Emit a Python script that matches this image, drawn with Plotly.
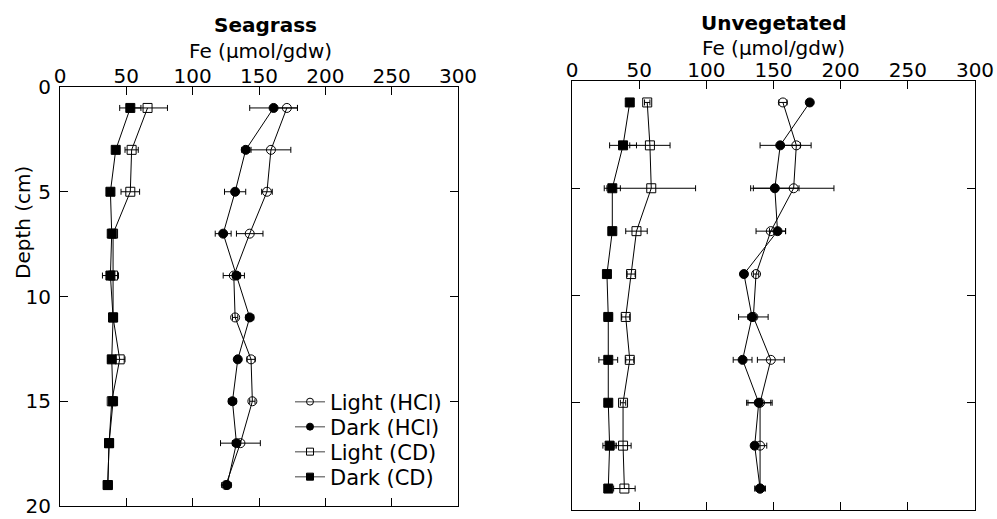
import plotly.graph_objects as go

depth = [1, 3, 5, 7, 9, 11, 13, 15, 17, 19]

# Seagrass panel
sg_light_hcl = [171, 159, 156, 143, 131, 132, 144, 145, 136, 125]
sg_light_hcl_err = [8, 15, 4, 10, 8, 2, 3, 2, 15, 3]
sg_dark_hcl = [161, 140, 132, 123, 133, 143, 134, 130, 133, 126]
sg_dark_hcl_err = [18, 3, 8, 6, 3, 3, 2, 3, 3, 3]
sg_light_cd = [66, 54, 53, 40, 40, 40, 45, 39, 37, 36]
sg_light_cd_err = [15, 5, 7, 2, 4, 2, 4, 2, 2, 3]
sg_dark_cd = [53, 42, 38, 39, 38, 40, 39, 40, 37, 36]
sg_dark_cd_err = [8, 2, 2, 2, 6, 2, 3, 2, 1, 3]

# Unvegetated panel
un_light_hcl = [157, 167, 165, 148, 137, 135, 148, 140, 140, 140]
un_light_hcl_err = [3, 11, 30, 11, 2, 11, 10, 9, 5, 3]
un_dark_hcl = [177, 155, 151, 153, 128, 134, 127, 139, 136, 140]
un_dark_hcl_err = [2, 15, 18, 6, 2, 3, 7, 9, 2, 4]
un_light_cd = [56, 58, 59, 48, 44, 40, 43, 38, 38, 39]
un_light_cd_err = [2, 15, 33, 8, 3, 3, 3, 2, 6, 8]
un_dark_cd = [43, 38, 30, 30, 26, 27, 27, 27, 28, 27]
un_dark_cd_err = [2, 10, 6, 2, 2, 3, 7, 2, 5, 2]

series_names = ["Light (HCl)", "Dark (HCl)", "Light (CD)", "Dark (CD)"]
symbols = ["circle-open", "circle", "square-open", "square"]
x_ticks = [0, 50, 100, 150, 200, 250, 300]
y_ticks = [0, 5, 10, 15, 20]

FONT = "DejaVu Sans"
W, H = 997, 519

fig = go.Figure()

panels = [
    ("x", "y", [(sg_light_hcl, sg_light_hcl_err), (sg_dark_hcl, sg_dark_hcl_err),
                (sg_light_cd, sg_light_cd_err), (sg_dark_cd, sg_dark_cd_err)]),
    ("x2", "y2", [(un_light_hcl, un_light_hcl_err), (un_dark_hcl, un_dark_hcl_err),
                  (un_light_cd, un_light_cd_err), (un_dark_cd, un_dark_cd_err)]),
]

for xa, ya, data in panels:
    for (vals, errs), name, sym in zip(data, series_names, symbols):
        fig.add_trace(go.Scatter(
            x=vals, y=depth, mode="lines+markers", name=name, showlegend=False,
            xaxis=xa, yaxis=ya,
            line=dict(color="black", width=1),
            marker=dict(symbol=sym, size=9, color="black",
                        line=dict(color="black", width=1)),
            error_x=dict(type="data", array=errs, visible=True,
                         color="black", thickness=1, width=3),
        ))

# legend entries, each in its own legend for exact spacing
legend_ids = ["legend", "legend2", "legend3", "legend4"]
for name, sym, lid in zip(series_names, symbols, legend_ids):
    fig.add_trace(go.Scatter(
        x=[None], y=[None], mode="lines+markers", name=name, showlegend=True,
        xaxis="x", yaxis="y", legend=lid,
        line=dict(color="#808080", width=1.5),
        marker=dict(symbol=sym, size=7, color="black",
                    line=dict(color="black", width=1)),
    ))

def xaxis_cfg(domain):
    return dict(domain=domain, range=[0, 300], side="top", tickvals=x_ticks,
                ticks="inside", ticklen=8, tickcolor="black", showline=True,
                linecolor="black", linewidth=1, mirror="ticks", showgrid=False,
                zeroline=False, tickfont=dict(family=FONT, size=20, color="black"),
                ticklabelstandoff=-5, automargin=False, ticklabeloverflow="allow")

def yaxis_cfg(domain, labels, anchor):
    return dict(domain=domain, range=[20, 0], tickvals=y_ticks, anchor=anchor,
                ticks="inside", ticklen=8, tickcolor="black", showline=True,
                linecolor="black", linewidth=1, mirror="ticks", showgrid=False,
                zeroline=False, showticklabels=labels,
                tickfont=dict(family=FONT, size=20, color="black"),
                ticklabelstandoff=4, automargin=False, ticklabeloverflow="allow")

def legend_cfg(py):
    return dict(x=290 / W, xanchor="left", y=1 - py / H, yanchor="middle",
                bgcolor="rgba(0,0,0,0)", borderwidth=0, tracegroupgap=0,
                font=dict(family=FONT, size=21, color="black"))

fig.update_layout(
    width=W, height=H,
    margin=dict(l=0, r=0, t=0, b=0, autoexpand=False),
    paper_bgcolor="white", plot_bgcolor="white",
    font=dict(family=FONT, size=20, color="black"),
    xaxis=xaxis_cfg([60 / W, 458 / W]) | dict(anchor="y"),
    yaxis=yaxis_cfg([1 - 506 / H, 1 - 87 / H], True, "x"),
    xaxis2=xaxis_cfg([572 / W, 975 / W]) | dict(anchor="y2"),
    yaxis2=yaxis_cfg([1 - 510 / H, 1 - 81 / H], False, "x2"),
    showlegend=True,
    legend=legend_cfg(402),
    legend2=legend_cfg(427),
    legend3=legend_cfg(452),
    legend4=legend_cfg(477),
)

annots = [
    (265, 25, "<b>Seagrass</b>"),
    (260, 51, "Fe (\u03bcmol/gdw)"),
    (773, 23, "<b>Unvegetated</b>"),
    (773, 48, "Fe (\u03bcmol/gdw)"),
]
for px, py, txt in annots:
    fig.add_annotation(x=px / W, y=1 - py / H, xref="paper", yref="paper",
                       text=txt, showarrow=False, xanchor="center", yanchor="middle",
                       font=dict(family=FONT, size=20, color="black"))

fig.add_annotation(x=23 / W, y=1 - 223 / H, xref="paper", yref="paper",
                   text="Depth (cm)", showarrow=False, textangle=-90,
                   xanchor="center", yanchor="middle",
                   font=dict(family=FONT, size=20, color="black"))

fig.write_html("out.html")
